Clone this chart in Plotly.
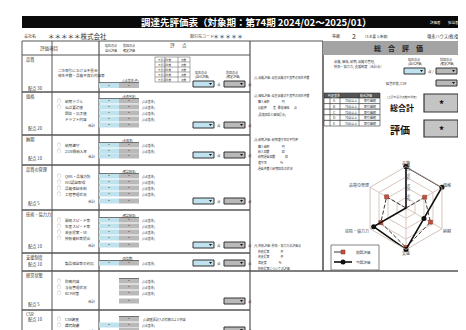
import plotly.graph_objects as go

# ---------------- data ----------------
categories = ["品質", "価格", "納期", "支援", "技術・協力力", "品質の管理"]
current_scores = [100, 100, 50, 100, 90, 0]     # 今回評価 (%)
previous_scores = [0, 52, 68, 95, 70, 54]       # 前回評価 (%)
radial_ticks = [25, 50, 75, 100]
radial_tick_labels = ["25%", "50%", "75%", "100%"]
series_names = ["前回評価", "今回評価"]

title_text = "調達先評価表（対象期：第74期 2024/02～2025/01）"
section_names = ["品質", "価格", "納期", "品質の管理", "技術・協力力", "支援制度", "経営状態", "CSR"]
section_points = ["配点 30", "配点 20", "配点 10", "配点 5", "配点 10", "配点 10", "配点 5", "配点 10"]

W, H = 466, 330
FONT = "Noto Sans CJK JP"
INK = "#333333"
BLUE = "#bfe3ee"
GRAY = "#b9b9b9"
PREV_MARK = "#c8503c"

shapes = []
annots = []


def rect(x0, y0, x1, y1, fill=None, line=INK, lw=0.8):
    shapes.append(dict(type="rect", xref="x", yref="y", x0=x0, y0=y0, x1=x1, y1=y1,
                       fillcolor=fill if fill else "rgba(0,0,0,0)",
                       line=dict(color=line, width=lw if line else 0)))


def hline(x0, x1, y, lw=1.2, color="#555555", dash="solid"):
    shapes.append(dict(type="line", xref="x", yref="y", x0=x0, x1=x1, y0=y, y1=y,
                       line=dict(color=color, width=lw, dash=dash)))


def vline(x, y0, y1, lw=1.2, color="#555555"):
    shapes.append(dict(type="line", xref="x", yref="y", x0=x, x1=x, y0=y0, y1=y1,
                       line=dict(color=color, width=lw)))


def txt(x, y, s, size=4.5, color=INK, anchor="left", bold=False):
    if bold:
        s = "<b>" + s + "</b>"
    annots.append(dict(x=x, y=y, xref="x", yref="y", text=s, showarrow=False,
                       xanchor=anchor, yanchor="middle",
                       font=dict(family=FONT, size=size, color=color)))


def inbox(x, y, fill):
    rect(x, y - 3, x + 21, y + 3, fill=fill, line="#333333", lw=1.0)
    shapes.append(dict(type="path", xref="x", yref="y",
                       path=f"M {x+16} {y-1} L {x+19} {y-1} L {x+17.5} {y+1} Z",
                       fillcolor="#111", line=dict(width=0)))


# ---------------- header ----------------
rect(14, 8, 466, 20, fill="#0a0a0a", line=None)
txt(248, 14, title_text, size=9.5, color="white", anchor="center", bold=True)
txt(420, 14, "評価者", size=3.5, color="white")
txt(438, 14, "担当者印", size=3.5, color="white")

txt(14, 28, "会社名", size=4)
txt(38, 28, "＊＊＊＊＊株式会社", size=6.5)
txt(180, 28, "取引先コード", size=4)
txt(203, 28, "＊＊＊＊＊", size=6)
txt(322, 28, "等級", size=4)
txt(342, 28, "2", size=7)
txt(355, 28, "(3:主要 1:準備)", size=3.5)
txt(417, 28, "増永ハウス(株)御中", size=4.2)

# ---------------- left table frame ----------------
hline(14, 315, 33, lw=1.0)
hline(14, 242, 47, lw=1.0)
vline(14, 33, 330, lw=1.0)
vline(44, 33, 330, lw=1.0)
vline(91, 33, 330, lw=1.2)
vline(242, 33, 330, lw=1.2)
vline(315, 33, 263, lw=1.6)

txt(30, 40, "評価項目", size=4.5)
txt(95, 37, "現在の点", size=3)
txt(95, 42, "自己評価", size=3)
txt(113, 37, "前回の点", size=3)
txt(113, 42, "確定評価", size=3)
txt(160, 37, "評", size=4.5)
txt(172, 37, "点", size=4.5)

section_bounds = [47, 84, 127, 157, 202, 245, 263, 302, 340]
for yb in section_bounds[1:-1]:
    hline(14, 242, yb, lw=1.6)
hline(242, 466, 263, lw=1.6)

for i, nm in enumerate(section_names):
    top = section_bounds[i]
    txt(16, top + 4, nm, size=4.2)

point_y = [80, 120, 150, 195, 238, 256, 296, 311]
for nm, yy in zip(section_points, point_y):
    txt(18, yy, nm, size=4.2)

# section 1 品質
txt(48, 62, "二次取引における不具合", size=3.6)
txt(48, 67, "発生件数・品質不良の内容等", size=3.6)
rect(91, 75, 111, 80, fill=BLUE, line=None)
rect(111, 75, 131, 80, fill=GRAY, line=None)
txt(101, 77.5, "*", size=4, anchor="center")
txt(121, 77.5, "*", size=4, anchor="center")
hline(91, 131, 74.5, lw=0.8)
txt(112, 72, "(1点基準/件)", size=3)
# small criteria table
for r in range(6):
    hline(147, 182, 49 + r * 5, lw=0.5, color="#555")
for xx in (147, 157, 170, 182):
    vline(xx, 49, 74, lw=0.5, color="#555")
for r in range(5):
    txt(148, 51.5 + r * 5, "不具合件数", size=2.6)
    txt(171, 51.5 + r * 5, "点数", size=2.6)
txt(185, 64, "現在の点", size=3)
txt(185, 68, "(自己評価)", size=3)
txt(216, 64, "前回の点", size=3)
txt(216, 68, "(確定評価)", size=3)

box_rows = [76, 117, 147, 193, 237, 255]
for yy in box_rows:
    inbox(185, yy, BLUE)
    txt(207, yy, "点", size=3.5)
    inbox(216, yy, GRAY)
    txt(238, yy, "点", size=3.5)
for yy in (293, 322):
    inbox(216, yy, GRAY)
    txt(238, yy, "点", size=3.5)


def item_rows(ys, labels, blue=True, header_y=None, header="", note=True):
    for yy, lb in zip(ys, labels):
        if lb.startswith("○"):
            txt(47, yy, "○", size=4)
            txt(55, yy, lb[1:], size=3.6)
        elif lb == "合計":
            txt(78, yy, lb, size=3.6)
        else:
            txt(55, yy, lb, size=3.6)
        if blue:
            rect(91, yy - 2.5, 111, yy + 2.5, fill=BLUE, line=None)
            txt(101, yy, "*", size=4, anchor="center")
        rect(111, yy - 2.5, 131, yy + 2.5, fill=GRAY, line=None)
        txt(121, yy, "*", size=4, anchor="center")
        if lb != "合計" and note:
            txt(132, yy, "(1点基準)", size=3)
    if header_y:
        hline(91, 131, header_y + 2.5, lw=0.8)
        txt(112, header_y, header, size=3)


item_rows([93, 99, 105, 111, 117], ["○納期ラブル", "○ねば要請値", "回答・交渉値", "ドラフト内容", "合計"],
          header_y=88, header="(合否判定)")
item_rows([137, 143, 148], ["○納期遵守", "○21日間納入率", "合計"], header_y=132, header="(合格率)")
item_rows([168, 174, 180, 186, 193], ["○QMS・品質方針", "○ISO認証取得", "○品質保証体制", "○工程管理状況", "合計"],
          header_y=163, header="(確認結果)")
item_rows([212, 218, 224, 230, 237], ["○開発スピード等", "○生産スピード等", "○改善提案・VE", "○技術資料等提出", "合計"],
          header_y=207, header="(確認結果)")
item_rows([255], ["製品保証等の対応"], header_y=250, header="(回答数)")
item_rows([273, 279, 285, 293], ["○財務内容", "○与信管理状況", "○BCP対策", "合計"], blue=False)
hline(111, 131, 270.5, lw=0.8)
item_rows([311, 317], ["○CSR調査", "○環境配慮"], blue=False, note=False)
rect(91, 314.5, 111, 319.5, fill=BLUE, line=None)
txt(101, 317, "*", size=4, anchor="center")
txt(132, 317, "(1点基準)", size=3)
txt(78, 323, "合計", size=3.6)
hline(111, 131, 308.5, lw=0.8)
hline(111, 131, 321, lw=0.8)
txt(133, 311, "(1)調査票記入の有無および内容", size=3)

# notes column
notes = [
    (69, "(1) 品質評価 : 現在品質の不良等の発生件数"),
    (87, "(2) 価格評価 : 現在品質の不良等の発生件数"),
    (93, "      購入金額                   円"),
    (99, "      比較値          者   最低価格       点"),
    (106, "      (見積回答と価格提示)"),
    (131, "(3) 納期評価 : 納期遵守率の平均値"),
    (138, "      購入金額                   円"),
    (143, "      納入回数                   回"),
    (148, "      納期遅延回数               回"),
    (154, "      遵守率                     %"),
    (160, "      遅延件数と納期回答の状況"),
    (237, "(4) 技術評価 : 技術・協力力の評価点"),
    (243, "      技術提案                 件"),
    (248, "      改善提案                 件"),
    (254, "      満足度                   %"),
    (260, "      技術提案についての評価"),
]
for yy, s in notes:
    txt(244, yy, s, size=2.9)

# ---------------- right panel ----------------
rect(315, 33, 466, 47, fill="#a3a3a3", line=None)
txt(390, 40, "総　合　評　価", size=7, anchor="center", bold=True, color="#222")
txt(324, 53, "品質, 価格, 納期, 品質の管理,", size=3.2)
txt(324, 58, "技術・協力力, 支援制度（合計点）", size=3.2)
txt(398, 51, "現在の点", size=3)
txt(398, 55, "(自己評価)", size=3)
txt(430, 51, "前回の点", size=3)
txt(430, 55, "(確定評価)", size=3)
inbox(396, 63, BLUE)
txt(418, 63, "点 /", size=3.5)
inbox(428, 63, GRAY)
txt(450, 63, "点/5", size=3.2)
txt(376, 75, "経営状態, CSR", size=3.2)
inbox(428, 75, GRAY)
txt(450, 75, "点/5", size=3.2)

# criteria table
rect(316, 85, 372, 90, fill="#555555", line=INK, lw=0.6)
txt(318, 87.5, "判定基準", size=3, color="white")
txt(350, 87.5, "総合評価", size=3, color="white")
grades = ["A", "B", "C", "D", "E"]
for r, g in enumerate(grades):
    yy = 90 + r * 5.6
    rect(316, yy, 372, yy + 5.6, fill="white", line=INK, lw=0.6)
    txt(326, yy + 2.8, g, size=3.5, anchor="center")
    txt(335, yy + 2.8, "70点以上", size=3)
    txt(354, yy + 2.8, "取引継続", size=3)
for xx in (322, 332, 351):
    vline(xx, 85, 118, lw=0.6, color=INK)

txt(377, 89, "(上記の合計点数の判定)", size=2.8)
txt(380, 99, "総合計", size=8, bold=True, color="#111")
rect(416, 86, 450, 104, fill="#c4c4c4", line="#333", lw=1.2)
txt(433, 95, "*", size=10, anchor="center", bold=True, color="#111")
txt(451, 97, "点/5", size=2.8)
txt(380, 121, "評価", size=10, bold=True, color="#111")
rect(416, 112, 450, 129, fill="#c4c4c4", line="#333", lw=1.2)
txt(433, 121, "*", size=10, anchor="center", bold=True, color="#111")

# legend (drawn as a key box)
rect(323, 237, 371, 262, fill="white", line="#666", lw=0.8)
hline(326, 344, 244, lw=0.9, color="#222", dash="dash")
rect(333, 242, 337, 246, fill=PREV_MARK, line="#7a2a1e", lw=0.5)
txt(346, 244, series_names[0], size=3.6)
hline(326, 344, 254, lw=1.6, color="#111")
shapes.append(dict(type="circle", xref="x", yref="y", x0=332.5, x1=337.5, y0=251.5, y1=256.5,
                   fillcolor="#111", line=dict(width=0)))
txt(346, 254, series_names[1], size=3.6)

# ---------------- radar ----------------
fig = go.Figure()
cats_closed = categories + [categories[0]]
fig.add_trace(go.Scatterpolar(
    r=previous_scores + [previous_scores[0]], theta=cats_closed, name=series_names[0],
    mode="lines+markers",
    line=dict(color="#222", width=0.9, dash="4px,2px"),
    marker=dict(symbol="square", size=4, color=PREV_MARK, line=dict(color="#7a2a1e", width=0.5)),
    subplot="polar"))
fig.add_trace(go.Scatterpolar(
    r=current_scores + [current_scores[0]], theta=cats_closed, name=series_names[1],
    mode="lines+markers",
    line=dict(color="#111", width=1.6),
    marker=dict(symbol="circle", size=5, color="#111"),
    subplot="polar"))

# invisible cartesian trace to hold the form coordinate system
fig.add_trace(go.Scatter(x=[0, W], y=[0, H], mode="markers", marker=dict(opacity=0),
                         showlegend=False, hoverinfo="skip"))

cx, cy, R = 398, 200, 41.5
fig.update_layout(
    width=W, height=H,
    margin=dict(l=0, r=0, t=0, b=0),
    paper_bgcolor="white", plot_bgcolor="rgba(0,0,0,0)",
    xaxis=dict(range=[0, W], visible=False, fixedrange=True),
    yaxis=dict(range=[H, 0], visible=False, fixedrange=True),
    shapes=shapes, annotations=annots,
    font=dict(family=FONT, color=INK),
    showlegend=False,
    polar=dict(
        domain=dict(x=[(cx - R) / W, (cx + R) / W], y=[1 - (cy + R) / H, 1 - (cy - R) / H]),
        gridshape="linear",
        bgcolor="white",
        radialaxis=dict(range=[0, 100], tickvals=radial_ticks, ticktext=radial_tick_labels,
                        angle=90, tickangle=0, showline=False, gridcolor="#d9c7bf", gridwidth=0.8,
                        tickfont=dict(size=3.5, color="#444"), ticks=""),
        angularaxis=dict(direction="clockwise", rotation=90, gridcolor="#d9c7bf",
                         linecolor="#c9b3a9", linewidth=0.8,
                         tickfont=dict(size=4, color="#444"), ticks=""),
    ),
)

fig.write_html("out.html")
